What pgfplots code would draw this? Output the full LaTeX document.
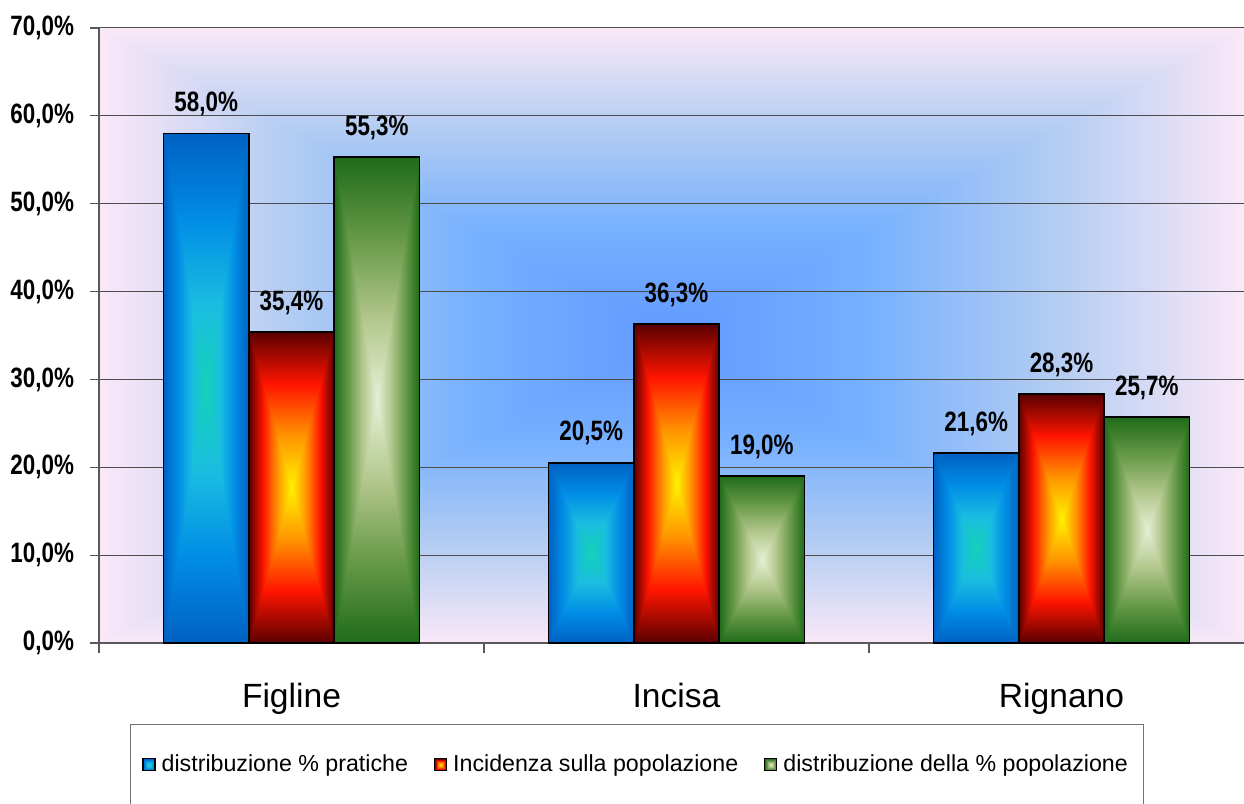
\documentclass[border=0pt]{standalone}
\usepackage{fontspec}
\setmainfont{Liberation Sans}
\newfontfamily\narrowfont[FakeStretch=0.8]{Liberation Sans}
\usepackage{pgfplots}
\pgfplotsset{compat=1.18}

\newcommand\tickfont{\narrowfont\bfseries\fontsize{14}{16}\selectfont}

% one linear piece of the gradient: s on the stack -> r g b
\newcommand\seg[6]{dup #4 #1 sub mul #1 add exch dup #5 #2 sub mul #2 add exch #6 #3 sub mul #3 add}
% "from centre" rectangular gradient, four stops from the centre to the edge
\newcommand\boxshade[5]{%
  \pgfdeclarefunctionalshading{#1}{\pgfpointorigin}{\pgfpoint{100bp}{100bp}}{}{%
    50 sub abs exch 50 sub abs 2 copy lt {exch} if pop 25 div dup 1 gt {pop 1} if
    dup 0.3333 lt {3 mul \seg#2#3}
    {dup 0.6667 lt {0.3333 sub 3 mul \seg#3#4} {0.6667 sub 3 mul \seg#4#5} ifelse} ifelse}}

\boxshade{blueshade}{{0.08}{0.82}{0.72}}{{0.10}{0.74}{0.88}}{{0.00}{0.55}{0.90}}{{0.00}{0.38}{0.76}}
\boxshade{redshade}{{1.00}{0.95}{0.00}}{{1.00}{0.58}{0.00}}{{1.00}{0.08}{0.00}}{{0.35}{0.00}{0.00}}
\boxshade{greenshade}{{0.90}{0.94}{0.84}}{{0.70}{0.78}{0.55}}{{0.40}{0.60}{0.28}}{{0.12}{0.42}{0.10}}
\boxshade{bgshade}{{0.38}{0.60}{1.00}}{{0.46}{0.69}{1.00}}{{0.70}{0.80}{0.95}}{{0.98}{0.91}{0.97}}

\begin{document}
\begin{tikzpicture}
\path[use as bounding box] (-49.5pt,-80.5pt) rectangle (572.5pt,321.5pt);
\begin{axis}[
  scale only axis, width=572.5pt, height=307.5pt,
  xmin=-0.5, xmax=2.474, ymin=0, ymax=70,
  axis x line*=bottom, axis y line*=left,
  axis line style={draw=black!65, line width=0.6pt},
  axis background/.style={shade, shading=bgshade},
  ytick={0,10,...,70}, ymajorgrids,
  grid style={draw=black!70, line width=0.5pt},
  yticklabel={\pgfmathprintnumber[fixed,fixed zerofill,precision=1,use comma,assume math mode=true]{\tick}\%},
  yticklabel style={font=\tickfont, xshift=-4.5pt},
  xtick={0,1,2}, xticklabels={Figline,Incisa,Rignano},
  xticklabel style={font=\fontsize{16.8}{20}\selectfont, yshift=-12pt},
  minor xtick={-0.5,0.5,1.5},
  tick align=outside, major tick length=4.5pt, minor tick length=5pt,
  tick style={draw=black!65, line width=0.6pt},
  major x tick style={draw=none},
  % one bar per plot, so that each bar gets its own gradient
  mybar/.style={ybar, bar width=0.2216, bar shift=0, draw=black, line width=0.9pt, shade,
    legend image code/.code={\draw[##1, line width=0.6pt] (0pt,-3pt) rectangle (6pt,3pt);}},
  blue/.style={mybar, shading=blueshade},
  red/.style={mybar, shading=redshade},
  green/.style={mybar, shading=greenshade},
  point meta=y,
  nodes near coords={\pgfmathprintnumber[fixed,fixed zerofill,precision=1,use comma,assume math mode=true]{\pgfplotspointmeta}\%},
  nodes near coords style={font=\tickfont, text=black, yshift=5pt},
  legend columns=3,
  legend style={at={(0.470,-0.198)}, anchor=center, draw=black!55, line width=0.6pt,
    font=\fontsize{11.6}{13}\selectfont, inner xsep=6pt, inner ysep=13pt,
    /tikz/every even column/.append style={column sep=11pt},
    /tikz/every odd column/.append style={column sep=1pt}},
]
% Figline
\addplot[blue]  coordinates {(-0.2216,58.0)};
\addplot[red]   coordinates {(0,35.4)};
\addplot[green] coordinates {(0.2216,55.3)};
% Incisa
\addplot[blue, forget plot]  coordinates {(0.7784,20.5)};
\addplot[red, forget plot]   coordinates {(1,36.3)};
\addplot[green, forget plot] coordinates {(1.2216,19.0)};
% Rignano
\addplot[blue, forget plot]  coordinates {(1.7784,21.6)};
\addplot[red, forget plot]   coordinates {(2,28.3)};
\addplot[green, forget plot] coordinates {(2.2216,25.7)};
\legend{distribuzione \% pratiche, Incidenza sulla popolazione, distribuzione della \% popolazione}
\end{axis}
\end{tikzpicture}
\end{document}
